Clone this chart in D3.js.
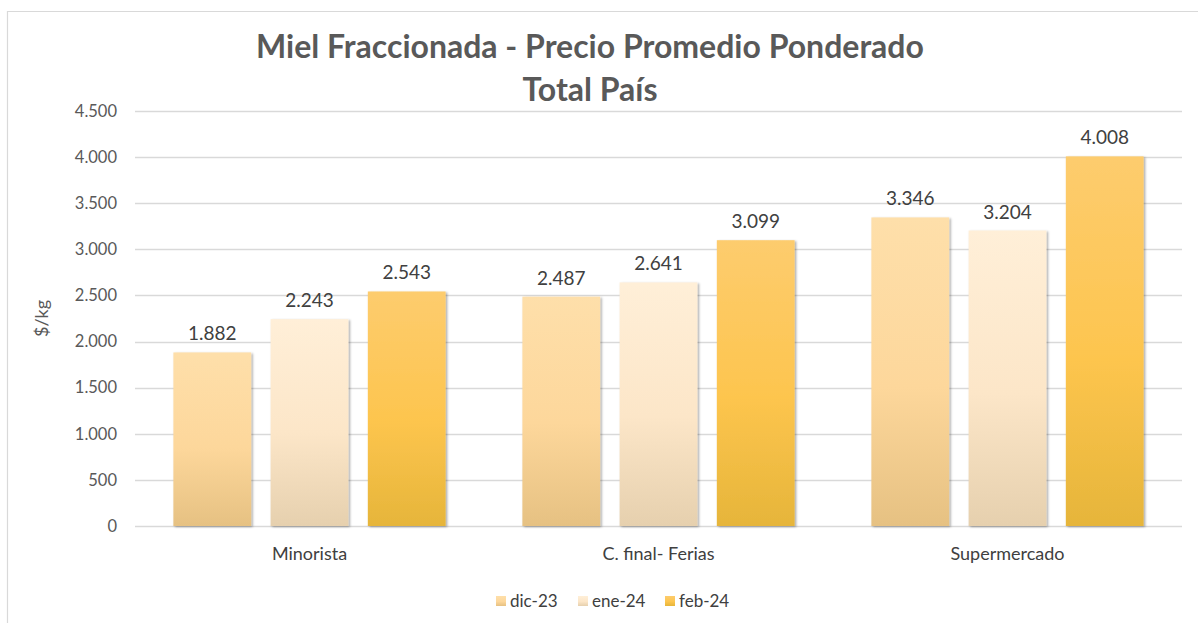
<!DOCTYPE html>
<html>
<head>
<meta charset="utf-8">
<script src="https://cdn.jsdelivr.net/npm/d3@7"></script>
<style>
  body { margin: 0; background: #fff; }
  svg { display: block; font-family: Lato, "Open Sans", sans-serif; }
</style>
</head>
<body>
<script>
// chart data
const categories = ['Minorista', 'C. final- Ferias', 'Supermercado'];
const seriesNames = ['dic-23', 'ene-24', 'feb-24'];
const values = [
	[1882, 2243, 2543],
	[2487, 2641, 3099],
	[3346, 3204, 4008]
];
const yTicks = [0, 500, 1000, 1500, 2000, 2500, 3000, 3500, 4000, 4500];

// gradient stops per series: top, middle, bottom
const seriesColors = [
	['#fedfaa', '#fdd79b', '#e6c182'],
	['#ffefd8', '#fce6c8', '#e6d0ae'],
	['#fdcc6e', '#fdc54e', '#e6b53a']
];

const width = 1198, height = 623;
const margin = {left: 135, right: 16, top: 111, bottom: 97};

const svg = d3.select('body').append('svg')
	.attr('width', width)
	.attr('height', height);

const defs = svg.append('defs');
seriesColors.forEach(function(c, i) {
	const g = defs.append('linearGradient')
		.attr('id', 'grad' + i)
		.attr('x1', 0).attr('y1', 0).attr('x2', 0).attr('y2', 1);
	g.append('stop').attr('offset', '0%').attr('stop-color', c[0]);
	g.append('stop').attr('offset', '55%').attr('stop-color', c[1]);
	g.append('stop').attr('offset', '100%').attr('stop-color', c[2]);
});
const shadow = defs.append('filter').attr('id', 'shadow')
	.attr('x', '-10%').attr('y', '-5%').attr('width', '130%').attr('height', '115%');
shadow.append('feDropShadow')
	.attr('dx', 1.5).attr('dy', 1).attr('stdDeviation', 1.2)
	.attr('flood-color', '#000').attr('flood-opacity', 0.35);

// chart frame
svg.append('path')
	.attr('d', `M7.5,${height} V11.5 H${width}`)
	.attr('fill', 'none')
	.attr('stroke', '#d9d9d9')
	.attr('stroke-width', 1.2);

const x0 = d3.scaleBand()
	.domain(categories)
	.range([margin.left, width - margin.right])
	.paddingInner(0.22)
	.paddingOuter(0.11);

const x1 = d3.scaleBand()
	.domain(seriesNames)
	.range([0, x0.bandwidth()])
	.paddingInner(0.2);

const y = d3.scaleLinear()
	.domain([0, 4500])
	.range([height - margin.bottom, margin.top]);

const fmt = function(v) { return d3.format(',')(v).replace(/,/g, '.'); };

// gridlines
svg.append('g')
	.selectAll('line')
	.data(yTicks)
	.enter().append('line')
	.attr('x1', margin.left)
	.attr('x2', width - margin.right)
	.attr('y1', function(d) { return Math.round(y(d)) + 0.5; })
	.attr('y2', function(d) { return Math.round(y(d)) + 0.5; })
	.attr('stroke', '#d9d9d9')
	.attr('stroke-width', 1.3);

// y axis
const yAxis = svg.append('g')
	.attr('transform', `translate(${margin.left},0)`)
	.call(d3.axisLeft(y).tickValues(yTicks).tickFormat(fmt).tickSize(0).tickPadding(18));
yAxis.select('.domain').remove();
yAxis.selectAll('text')
	.attr('fill', '#595959')
	.style('font-size', '16.5px')
	.style('font-family', 'Lato, sans-serif');

svg.append('text')
	.attr('transform', `translate(48,${(y(0) + y(4500)) / 2}) rotate(-90)`)
	.attr('text-anchor', 'middle')
	.attr('fill', '#595959')
	.style('font-size', '18px')
	.text('$/kg');

// bars
const groups = svg.append('g')
	.selectAll('g')
	.data(categories)
	.enter().append('g')
	.attr('transform', function(d) { return `translate(${x0(d)},0)`; });

groups.selectAll('rect')
	.data(function(d, i) { return values[i].map(function(v, j) { return {s: seriesNames[j], j: j, v: v}; }); })
	.enter().append('rect')
	.attr('x', function(d) { return x1(d.s); })
	.attr('y', function(d) { return y(d.v); })
	.attr('width', x1.bandwidth())
	.attr('height', function(d) { return y(0) - y(d.v); })
	.attr('fill', function(d) { return `url(#grad${d.j})`; })
	.attr('filter', 'url(#shadow)');

groups.selectAll('text.val')
	.data(function(d, i) { return values[i].map(function(v, j) { return {s: seriesNames[j], v: v}; }); })
	.enter().append('text')
	.attr('class', 'val')
	.attr('x', function(d) { return x1(d.s) + x1.bandwidth() / 2; })
	.attr('y', function(d) { return y(d.v) - 12; })
	.attr('text-anchor', 'middle')
	.attr('fill', '#404040')
	.style('font-size', '19px')
	.text(function(d) { return fmt(d.v); });

// x axis labels
svg.append('g')
	.selectAll('text')
	.data(categories)
	.enter().append('text')
	.attr('x', function(d) { return x0(d) + x0.bandwidth() / 2; })
	.attr('y', y(0) + 34)
	.attr('text-anchor', 'middle')
	.attr('fill', '#404040')
	.style('font-size', '18px')
	.text(function(d) { return d; });

// title
const title = svg.append('text')
	.attr('x', 590)
	.attr('text-anchor', 'middle')
	.attr('fill', '#595959')
	.style('font-size', '32px')
	.style('font-weight', 'bold');
title.append('tspan').attr('x', 590).attr('y', 58).text('Miel Fraccionada - Precio Promedio Ponderado');
title.append('tspan').attr('x', 590).attr('y', 101).text('Total País');

// legend
const legendX = [496, 578, 665];
const legend = svg.append('g')
	.selectAll('g')
	.data(seriesNames)
	.enter().append('g')
	.attr('transform', function(d, i) { return `translate(${legendX[i]},596)`; });
legend.append('rect')
	.attr('width', 10).attr('height', 10)
	.attr('fill', function(d, i) { return `url(#grad${i})`; });
legend.append('text')
	.attr('x', 14)
	.attr('y', 11)
	.attr('fill', '#404040')
	.style('font-size', '17px')
	.text(function(d) { return d; });
</script>
</body>
</html>
